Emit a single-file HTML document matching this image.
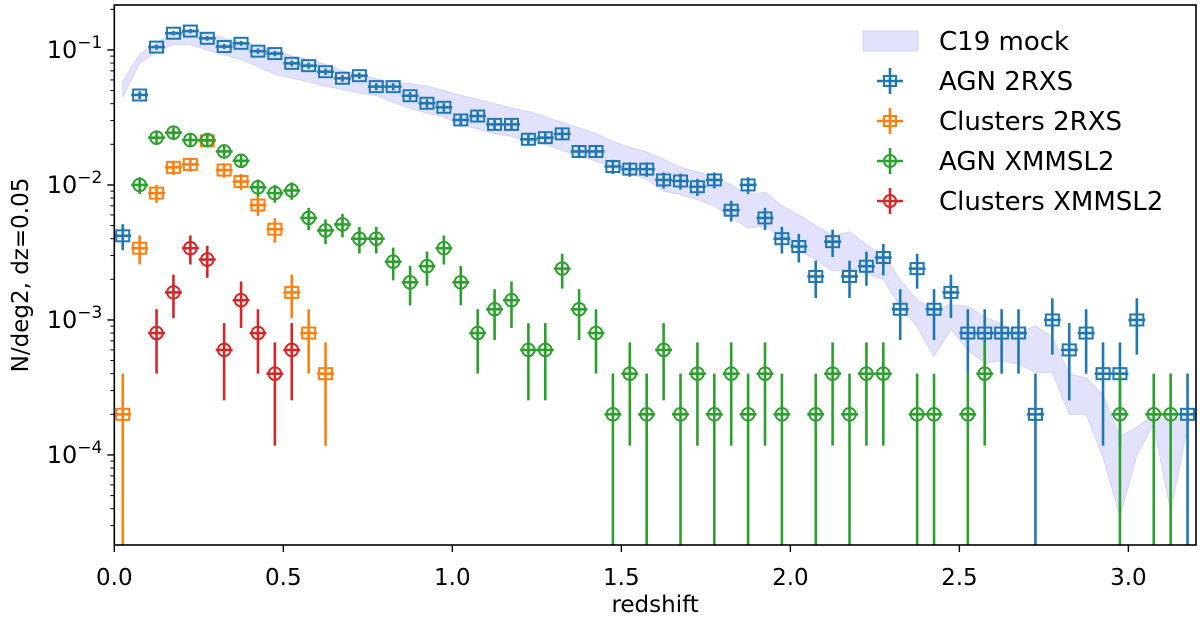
<!DOCTYPE html>
<html><head><meta charset="utf-8">
<style>
html,body{margin:0;padding:0;background:#fff;}
svg{display:block;font-family:"DejaVu Sans","Liberation Sans",sans-serif;}
</style></head>
<body>
<svg id="chart" width="1200" height="618" viewBox="0 0 1200 618" xmlns="http://www.w3.org/2000/svg">
  <g id="band-layer"></g>
  <g id="series-layer"></g>
  <g id="axes-layer"></g>
  <g id="legend"></g>
</svg>
<script>
const zBins = [0.025,0.075,0.125,0.175,0.225,0.275,0.325,0.375,0.425,0.475,
0.525,0.575,0.625,0.675,0.725,0.775,0.825,0.875,0.925,0.975,
1.025,1.075,1.125,1.175,1.225,1.275,1.325,1.375,1.425,1.475,
1.525,1.575,1.625,1.675,1.725,1.775,1.825,1.875,1.925,1.975,
2.025,2.075,2.125,2.175,2.225,2.275,2.325,2.375,2.425,2.475,
2.525,2.575,2.625,2.675,2.725,2.775,2.825,2.875,2.925,2.975,
3.025,3.075,3.125,3.175];
const agn2rxs = [0.0042,0.0464,0.105,0.133,0.138,0.122,0.106,0.112,0.098,0.094,
0.0796,0.0765,0.069,0.0617,0.0645,0.0535,0.0535,0.0458,0.0403,0.0376,
0.0303,0.0324,0.0281,0.0281,0.0218,0.0224,0.0239,0.0177,0.0177,0.0137,
0.0131,0.0131,0.0109,0.0107,0.0097,0.0109,0.0065,0.0100,0.0057,0.0040,
0.0035,0.0021,0.0038,0.0021,0.0025,0.0029,0.0012,0.0024,0.0012,0.0016,
0.0008,0.0008,0.0008,0.0008,0.0002,0.001,0.0006,0.0008,0.0004,0.0004,
0.001,null,null,0.0002];
const clusters2rxs = [0.0002,0.0034,0.0087,0.0135,0.0142,0.0212,0.0129,0.0106,0.0071,0.0047,0.0016,0.0008,0.0004];
const agnXmmsl2 = [null,0.0100,0.0224,0.0244,0.0215,0.0215,0.0177,0.0151,0.0096,0.0087,
0.0091,0.0057,0.0046,0.0051,0.0040,0.0040,0.0027,0.0019,0.0025,0.0034,
0.0019,0.0008,0.0012,0.0014,0.0006,0.0006,0.0024,0.0012,0.0008,0.0002,
0.0004,0.0002,0.0006,0.0002,0.0004,0.0002,0.0004,0.0002,0.0004,0.0002,
null,0.0002,0.0004,0.0002,0.0004,0.0004,null,0.0002,0.0002,null,
0.0002,0.0004,null,null,null,null,null,null,null,0.0002,
null,0.0002,0.0002,null];
const clustersXmmsl2 = [null,null,0.0008,0.0016,0.0034,0.0028,0.0006,0.0014,0.0008,0.0004,0.0006];
const mockLow = [0.045,0.080,0.097,0.110,0.110,0.100,0.092,0.085,0.075,0.066,
0.062,0.058,0.054,0.051,0.048,0.046,0.041,0.037,0.034,0.032,
0.028,0.026,0.024,0.023,0.021,0.020,0.018,0.0165,0.0150,0.0135,
0.0122,0.0110,0.0090,0.0085,0.0078,0.0070,0.0058,0.0048,0.0050,0.0040,
0.0033,0.0028,0.0023,0.0024,0.0022,0.0020,0.00126,0.00089,0.00054,0.00086,
0.0006,0.00048,0.0005,0.00047,0.00041,0.00041,0.0002,0.0002,0.000097,0.000035,
0.0001,0.00017,0.000038,0.00016];
const mockHigh = [0.058,0.093,0.112,0.135,0.140,0.132,0.122,0.115,0.106,0.100,
0.090,0.085,0.078,0.070,0.066,0.061,0.058,0.056,0.054,0.050,
0.046,0.043,0.040,0.037,0.035,0.032,0.029,0.0265,0.024,0.021,
0.019,0.0175,0.0155,0.0135,0.0125,0.0115,0.0100,0.0085,0.0088,0.0070,
0.0060,0.0050,0.0042,0.0045,0.0036,0.0030,0.00198,0.0014,0.0012,0.0013,
0.00126,0.00105,0.00093,0.00081,0.0009,0.00075,0.0004,0.00037,0.00028,0.000136,
0.00016,0.0002,0.00017,0.0002];
const xTickValues = [0,0.5,1.0,1.5,2.0,2.5,3.0];
const xTickLabels = ["0.0","0.5","1.0","1.5","2.0","2.5","3.0"];
const yTickExponents = [-1,-2,-3,-4];
const legendLabels = ["C19 mock","AGN 2RXS","Clusters 2RXS","AGN XMMSL2","Clusters XMMSL2"];
const unitCount = 0.0002;

const NS = "http://www.w3.org/2000/svg";
const L = 114.3, R = 1196, T = 5, B = 545;
const xMin = 0, xMax = 3.2, lgMax = -0.667, lgMin = -4.667;
function xs(z){ return L + (z - xMin) / (xMax - xMin) * (R - L); }
function ys(v){ if (v <= 0) return B + 20; const l = Math.log10(v); return T + (lgMax - l) / (lgMax - lgMin) * (B - T); }
function mk(tag, attrs, parent){ const e = document.createElementNS(NS, tag); for (const k in attrs) e.setAttribute(k, attrs[k]); parent.appendChild(e); return e; }

const defs = mk('defs', {}, document.getElementById('chart'));
const cp = mk('clipPath', {id:'plotclip'}, defs);
mk('rect', {x:L, y:T, width:R-L, height:B-T}, cp);

const bandG = document.getElementById('band-layer');
bandG.setAttribute('clip-path','url(#plotclip)');
let pts = [];
for (let i=0;i<zBins.length;i++) pts.push(xs(zBins[i]).toFixed(1)+','+ys(mockHigh[i]).toFixed(1));
for (let i=zBins.length-1;i>=0;i--) pts.push(xs(zBins[i]).toFixed(1)+','+ys(mockLow[i]).toFixed(1));
const band = mk('polygon', {points: pts.join(' '), fill:'#e2e2fd', stroke:'#d2d2fb', 'stroke-width':1}, bandG);



const sLayer = document.getElementById('series-layer');
sLayer.setAttribute('clip-path','url(#plotclip)');
function drawSeries(vals, color, marker, name){
  const g = mk('g', {}, sLayer);
  
  
  for (let i=0;i<vals.length;i++){
    const v = vals[i];
    if (v === null || v === undefined) continue;
    const err = Math.sqrt(v * unitCount);
    const cx = xs(zBins[i]), cy = ys(v);
    const pg = mk('g', {}, g);
    
    
    mk('line', {x1:cx, x2:cx, y1:ys(v+err), y2:ys(v-err), stroke:color, 'stroke-width':2.6}, pg);
    mk('line', {x1:xs(zBins[i]-0.025), x2:xs(zBins[i]+0.025), y1:cy, y2:cy, stroke:color, 'stroke-width':2.6}, pg);
    if (marker === 's') mk('rect', {x:cx-6.5, y:cy-5.5, width:13, height:11, fill:'none', stroke:color, 'stroke-width':2}, pg);
    else mk('circle', {cx:cx, cy:cy, r:6.3, fill:'none', stroke:color, 'stroke-width':2}, pg);
  }
}
drawSeries(agn2rxs, '#1f77b4', 's', 'agn-2rxs');
drawSeries(clusters2rxs, '#ff7f0e', 's', 'clusters-2rxs');
drawSeries(agnXmmsl2, '#2ca02c', 'o', 'agn-xmmsl2');
drawSeries(clustersXmmsl2, '#d62728', 'o', 'clusters-xmmsl2');

const ax = document.getElementById('axes-layer');
const frame = mk('rect', {x:L, y:T, width:R-L, height:B-T, fill:'none', stroke:'#000', 'stroke-width':1.6}, ax);


for (let i=0;i<xTickValues.length;i++){
  const x = xs(xTickValues[i]);
  mk('line', {x1:x, x2:x, y1:B, y2:B+7, stroke:'#000', 'stroke-width':1.4}, ax);
  const t = mk('text', {x:x, y:B+40, 'text-anchor':'middle', 'font-size':23, fill:'#000'}, ax);
  t.textContent = xTickLabels[i];
  
  
}
for (let i=0;i<yTickExponents.length;i++){
  const e = yTickExponents[i];
  const y = ys(Math.pow(10, e));
  mk('line', {x1:L-7, x2:L, y1:y, y2:y, stroke:'#000', 'stroke-width':1.4}, ax);
  const t = mk('text', {x:L-12, y:y+8, 'text-anchor':'end', 'font-size':24, fill:'#000'}, ax);
  
  
  const a = mk('tspan', {}, t); a.textContent = '10';
  const b = mk('tspan', {dy:-10, 'font-size':17}, t); b.textContent = '\u2212' + Math.abs(e);
}
for (let d=-5; d<=-1; d++){
  for (let m=2; m<=9; m++){
    const v = m*Math.pow(10,d);
    const lg = Math.log10(v);
    if (lg < lgMin || lg > lgMax) continue;
    const y = ys(v);
    mk('line', {x1:L-4, x2:L, y1:y, y2:y, stroke:'#000', 'stroke-width':1}, ax);
  }
}
const xt = mk('text', {x:(L+R)/2, y:612, 'text-anchor':'middle', 'font-size':23, fill:'#000'}, ax);
xt.textContent = 'redshift';


const yt = mk('text', {x:0, y:0, 'text-anchor':'middle', 'font-size':23, fill:'#000', transform:'translate(28,'+((T+B)/2)+') rotate(-90)'}, ax);
yt.textContent = 'N/deg2, dz=0.05';



const lg = document.getElementById('legend');
const legColors = [null,'#1f77b4','#ff7f0e','#2ca02c','#d62728'];
const legMarkers = [null,'s','s','o','o'];
for (let i=0;i<legendLabels.length;i++){
  const cy = 41 + i*40;
  const eg = mk('g', {}, lg);
  
  
  if (i === 0){
    mk('rect', {x:863, y:cy-10, width:55, height:20, fill:'#e2e2fd', stroke:'#d2d2fb', 'stroke-width':1}, eg);
  } else {
    const c = legColors[i], cx = 890;
    mk('line', {x1:cx, x2:cx, y1:cy-13, y2:cy+13, stroke:c, 'stroke-width':2.6}, eg);
    mk('line', {x1:cx-13, x2:cx+13, y1:cy, y2:cy, stroke:c, 'stroke-width':2.6}, eg);
    if (legMarkers[i]==='s') mk('rect', {x:cx-6, y:cy-5, width:12, height:10, fill:'none', stroke:c, 'stroke-width':2}, eg);
    else mk('circle', {cx:cx, cy:cy, r:6, fill:'none', stroke:c, 'stroke-width':2}, eg);
  }
  const t = mk('text', {x:939, y:cy+9, 'font-size':26, fill:'#000'}, eg);
  t.textContent = legendLabels[i];
}
</script>
</body></html>
